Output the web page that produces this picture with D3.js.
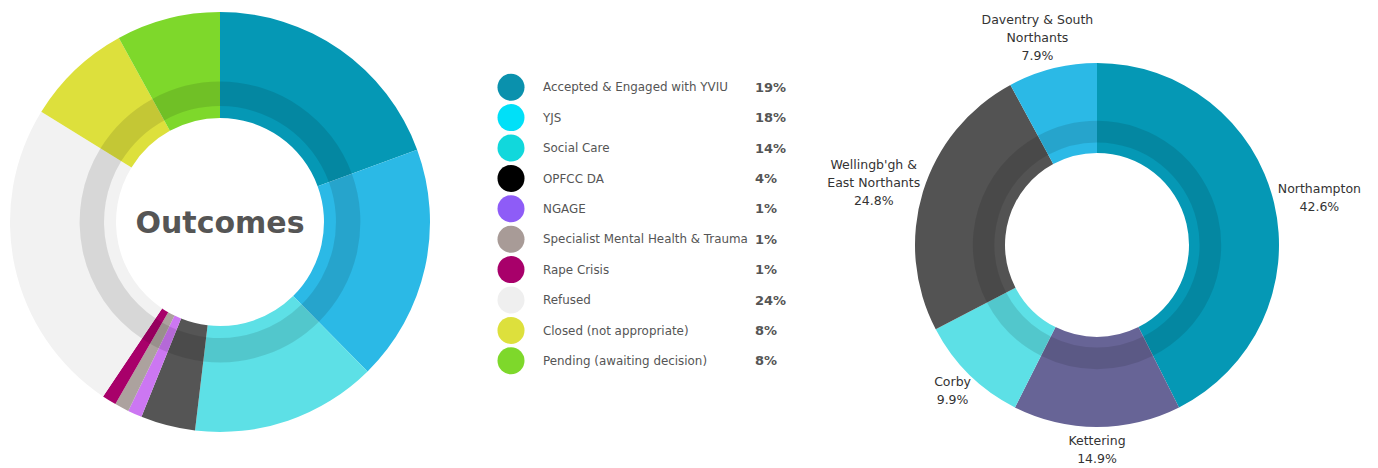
<!DOCTYPE html>
<html>
<head>
<meta charset="utf-8">
<script src="https://cdn.jsdelivr.net/npm/d3@7"></script>
<style>
  body { margin: 0; background: #fff; }
  svg { display: block; font-family: 'DejaVu Sans', Verdana, sans-serif; }
</style>
</head>
<body>
<div id="chart"></div>
<script>
// Outcomes donut + legend
var outcomeNames = ['Accepted & Engaged with YVIU', 'YJS', 'Social Care', 'OPFCC DA', 'NGAGE',
  'Specialist Mental Health & Trauma', 'Rape Crisis', 'Refused', 'Closed (not appropriate)', 'Pending (awaiting decision)'];
var outcomeValues = [19.4, 18.2, 14.3, 4.2, 1.1, 1.1, 1.1, 24.4, 8.2, 8.0];
var outcomeLabels = ['19%', '18%', '14%', '4%', '1%', '1%', '1%', '24%', '8%', '8%'];
var outcomeArcColors = ['#0598b5', '#2bb9e6', '#5de0e6', '#555555', '#cc77f2',
  '#aca29e', '#a8006a', '#f2f2f2', '#dde03c', '#7ed82b'];
var outcomeDotColors = ['#0a91ad', '#00e0f8', '#11d8dc', '#000000', '#8e5cf7',
  '#a89b97', '#a8006a', '#efefef', '#dde03c', '#7ed82b'];

// Area donut
var areaNames = [['Northampton'], ['Kettering'], ['Corby'], ['Wellingb\'gh &', 'East Northants'], ['Daventry & South', 'Northants']];
var areaValues = [42.6, 14.9, 9.9, 24.8, 7.9];
var areaColors = ['#0598b5', '#676496', '#5de0e6', '#535353', '#2bb9e6'];

var width = 1378;
var height = 468;

var svg = d3.select('#chart')
  .append('svg')
  .attr('width', width)
  .attr('height', height);

var pie = d3.pie().sort(null).value(function (d) { return d; });

// draws a donut with the darker inner band
function donut(cx, cy, outer, hole, values, colors) {
  var g = svg.append('g').attr('transform', 'translate(' + cx + ',' + cy + ')');
  var arcs = pie(values);
  var arc = d3.arc().innerRadius(hole).outerRadius(outer);
  var band = d3.arc().innerRadius(hole * 1.115).outerRadius(hole * 1.35);
  g.selectAll('path.slice')
    .data(arcs)
    .enter()
    .append('path')
      .attr('class', 'slice')
      .attr('d', arc)
      .attr('fill', function (d, i) { return colors[i]; });
  g.selectAll('path.band')
    .data(arcs)
    .enter()
    .append('path')
      .attr('class', 'band')
      .attr('d', band)
      .attr('fill', '#000')
      .attr('fill-opacity', 0.11);
  return { g: g, arcs: arcs };
}

var left = donut(220, 222, 210, 104, outcomeValues, outcomeArcColors);

left.g.append('text')
  .attr('text-anchor', 'middle')
  .attr('y', 11)
  .attr('font-size', 30)
  .attr('font-weight', 'bold')
  .attr('fill', '#555')
  .text('Outcomes');

// legend
var y = d3.scaleBand()
  .domain(outcomeNames)
  .range([72, 376]);

var legend = svg.append('g');
var rows = legend.selectAll('g')
  .data(outcomeNames)
  .enter()
  .append('g')
    .attr('transform', function (d) { return 'translate(0,' + (y(d) + y.bandwidth() / 2) + ')'; });

rows.append('circle')
  .attr('cx', 511)
  .attr('r', 13.5)
  .attr('fill', function (d, i) { return outcomeDotColors[i]; });

rows.append('text')
  .attr('x', 543)
  .attr('dy', '0.35em')
  .attr('font-size', 11.9)
  .attr('fill', '#555')
  .text(function (d) { return d; });

rows.append('text')
  .attr('x', 755)
  .attr('dy', '0.35em')
  .attr('font-size', 13)
  .attr('font-weight', 'bold')
  .attr('fill', '#555')
  .text(function (d, i) { return outcomeLabels[i]; });

// right donut with outside labels
var right = donut(1097, 245, 182, 92, areaValues, areaColors);
var labelArc = d3.arc().innerRadius(187).outerRadius(187);
var lineH = 18;

right.arcs.forEach(function (d) {
  var lines = areaNames[d.index].concat([d.value.toFixed(1) + '%']);
  var t = right.g.append('text')
    .attr('text-anchor', 'middle')
    .attr('font-size', 12.5)
    .attr('fill', '#333');
  lines.forEach(function (l, k) {
    t.append('tspan')
      .attr('x', 0)
      .attr('dy', k === 0 ? '0.35em' : lineH)
      .text(l);
  });
  // push the text block outward from its anchor on the ring
  var w = t.node().getBBox().width;
  var h = lines.length * lineH;
  var a = (d.startAngle + d.endAngle) / 2;
  var c = labelArc.centroid(d);
  var bx = c[0] + Math.sin(a) * w / 2;
  var by = c[1] - Math.cos(a) * h / 2 - (h - lineH) / 2;
  t.attr('transform', 'translate(' + bx + ',' + by + ')');
});
</script>
</body>
</html>
